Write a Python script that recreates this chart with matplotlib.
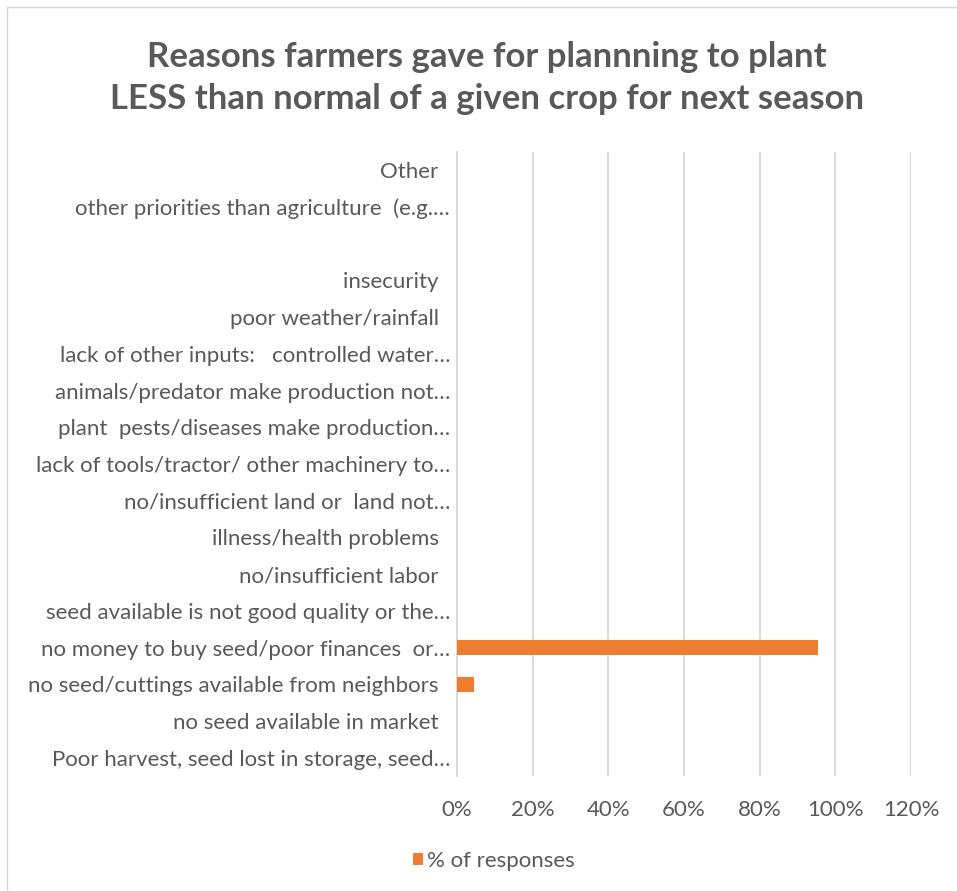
"""
Horizontal bar chart: reasons farmers gave for planting less of a crop.
"""

import matplotlib.pyplot as plt
from matplotlib.patches import Patch, Rectangle
from matplotlib.ticker import FuncFormatter

# categories, bottom to top (as drawn by the chart)
categories = [
    "Poor harvest, seed lost in storage, seed\u2026",
    "no seed available in market  ",
    "no seed/cuttings available from neighbors  ",
    "no money to buy seed/poor finances  or\u2026",
    "seed available is not good quality or the\u2026",
    "no/insufficient labor  ",
    "illness/health problems  ",
    "no/insufficient land or  land not\u2026",
    "lack of tools/tractor/ other machinery to\u2026",
    "plant  pests/diseases make production\u2026",
    "animals/predator make production not\u2026",
    "lack of other inputs:   controlled water\u2026",
    "poor weather/rainfall  ",
    "insecurity  ",
    "",
    "other priorities than agriculture  (e.g.\u2026",
    "Other  ",
]
pct_responses = [0, 0, 0.045, 0.955, 0, 0, 0, 0, 0, 0, 0, 0, 0, 0, 0, 0, 0]
x_ticks = [0, 0.2, 0.4, 0.6, 0.8, 1.0, 1.2]

title = ("Reasons farmers gave for plannning to plant\n"
         "LESS than normal of a given crop for next season")
series_name = "% of responses"

TEXT = "#595959"
GRID = "#D9D9D9"
BAR = "#ED7D31"
FONT = "Lato"
FS = 16

W, H, DPI = 957, 891, 100


def main() -> None:
    fig = plt.figure(figsize=(W / DPI, H / DPI), dpi=DPI)

    # chart-area border (runs off the right and bottom of the crop)
    fig.patches.append(
        Rectangle((7 / W, -0.1), 1.2, 1 - 7 / H + 0.1,
                  transform=fig.transFigure, facecolor="none",
                  edgecolor=GRID, linewidth=1.0)
    )

    ax = fig.add_axes([457 / W, 1 - 776 / H, (911 - 457) / W, (776 - 152) / H])

    ypos = list(range(len(categories)))
    ax.barh(ypos, pct_responses, height=0.4, color=BAR, zorder=3)

    ax.set_xlim(0, 1.2)
    ax.set_ylim(-0.5, len(categories) - 0.5)
    ax.set_xticks(x_ticks)
    ax.xaxis.set_major_formatter(FuncFormatter(lambda v, _: f"{v * 100:.0f}%"))
    ax.set_yticks(ypos)
    ax.set_yticklabels(categories)

    ax.grid(axis="x", color=GRID, linewidth=1.4, zorder=0)
    for side in ("top", "right", "bottom"):
        ax.spines[side].set_visible(False)
    ax.spines["left"].set_color(GRID)
    ax.spines["left"].set_linewidth(1.4)

    ax.tick_params(axis="both", length=0, colors=TEXT, labelsize=FS)
    ax.tick_params(axis="y", pad=5)
    ax.tick_params(axis="x", pad=17)
    for lab in ax.get_xticklabels() + ax.get_yticklabels():
        lab.set_fontfamily(FONT)

    fig.text(487 / W, 1 - 78 / H, title, ha="center", va="center",
             fontsize=25, fontweight="bold", color=TEXT, family=FONT,
             linespacing=1.42)

    handle = Patch(facecolor=BAR, edgecolor="none")
    fig.legend([handle], [series_name], loc="center",
               bbox_to_anchor=(494 / W, 1 - 861 / H), frameon=False,
               handlelength=0.45, handleheight=0.45, handletextpad=0.2,
               borderpad=0, prop={"family": FONT, "size": FS},
               labelcolor=TEXT)

    fig.savefig("out.png", dpi=DPI)
    plt.close(fig)


if __name__ == "__main__":
    main()
